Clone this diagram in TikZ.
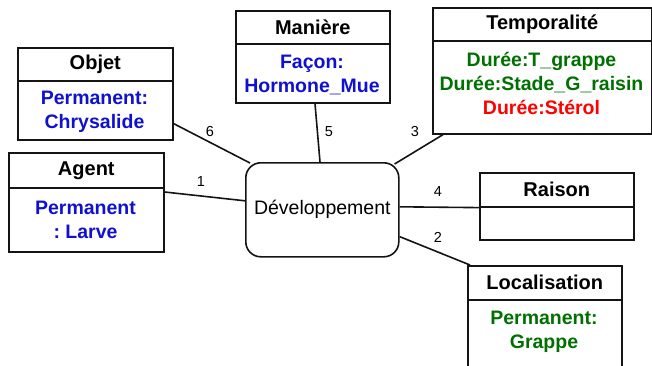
\documentclass[tikz,border=0pt]{standalone}
\usepackage{fontspec}
\setmainfont{Liberation Sans}
\usetikzlibrary{calc}
\frenchspacing
\definecolor{cblue}{RGB}{16,16,208}
\definecolor{cgreen}{RGB}{0,112,0}
\definecolor{cred}{RGB}{255,0,0}
\definecolor{cline}{RGB}{20,20,20}
\tikzset{
  boxpart/.style={draw=cline, line width=1.6pt, anchor=north west, inner sep=0pt, align=center},
  titletext/.style={font=\fontsize{20}{24}\selectfont\bfseries, text=black},
  bodytext/.style={font=\fontsize{19.5}{23.5}\selectfont\bfseries, align=center, inner sep=0pt},
  devbox/.style={draw=cline, line width=1.6pt, rounded corners=15pt, anchor=north west, inner sep=0pt, font=\fontsize{19.5}{23.5}\selectfont},
  conn/.style={draw=cline, line width=1.6pt},
  numlabel/.style={font=\fontsize{14.5}{16}\selectfont, inner sep=0pt}
}
\begin{document}
\begin{tikzpicture}[x=1pt,y=-1pt]
\useasboundingbox (0,0) rectangle (652,365);
\clip (0,0) rectangle (652,365);
\fill[white] (0,0) rectangle (652,365);

% Objet
\node[boxpart, titletext, minimum width=155pt, minimum height=33pt] (objT) at (17,47) {Objet};
\node[boxpart, minimum width=155pt, minimum height=59pt] (objB) at (17,80) {};
\node[bodytext, text=cblue] (objX) at (94.5,112) {Permanent:\\Chrysalide};

% Maniere
\node[boxpart, titletext, minimum width=154pt, minimum height=33pt] (manT) at (235,10) {Manière};
\node[boxpart, minimum width=154pt, minimum height=59pt] (manB) at (235,43) {};
\node[bodytext, text=cblue] (manX) at (312,75) {Façon:\\Hormone\_Mue};

% Temporalite
\node[boxpart, titletext, minimum width=219pt, minimum height=33pt] (temT) at (432,7) {Temporalité};
\node[boxpart, minimum width=219pt, minimum height=93pt] (temB) at (432,40) {};
\node[bodytext, font=\fontsize{19.5}{24}\selectfont\bfseries] (temX) at (541.5,83.5) {\textcolor{cgreen}{Durée:T\_grappe}\\\textcolor{cgreen}{Durée:Stade\_G\_raisin}\\\textcolor{cred}{Durée:Stérol}};

% Agent
\node[boxpart, titletext, minimum width=155pt, minimum height=35pt] (agT) at (8,152) {Agent};
\node[boxpart, minimum width=155pt, minimum height=64pt] (agB) at (8,187) {};
\node[bodytext, text=cblue] (agX) at (85.5,220) {Permanent\\: Larve};

% Raison
\node[boxpart, titletext, minimum width=154pt, minimum height=34pt] (raiT) at (479,172) {Raison};
\node[boxpart, minimum width=154pt, minimum height=33pt] (raiB) at (479,206) {};

% Localisation
\node[boxpart, titletext, minimum width=154pt, minimum height=34pt] (locT) at (467,265) {Localisation};
\node[boxpart, minimum width=154pt, minimum height=90pt] (locB) at (467,299) {};
\node[bodytext, text=cgreen] (locX) at (544,332) {Permanent:\\Grappe};

% Developpement
\node[devbox, minimum width=153pt, minimum height=94pt] (dev) at (245,162) {Développement};

% connectors
\draw[conn] ([yshift=17pt]objB.south east) -- ([xshift=5pt,yshift=-1pt]dev.north west);
\draw[conn] ([xshift=80pt]manB.south west) -- ([xshift=75pt]dev.north west);
\draw[conn] ([xshift=11pt]temB.south west) -- ([xshift=-5pt,yshift=-2pt]dev.north east);
\draw[conn] ([yshift=-5pt]agB.north east) -- ([yshift=9pt]dev.west);
\draw[conn] ([yshift=3pt]dev.east) -- (raiT.south west);
\draw[conn] ([yshift=21pt]dev.south east) -- ([xshift=3pt]locT.north west);

% labels
\node[numlabel] (l6) at (210,132) {6};
\node[numlabel] (l5) at (329,132) {5};
\node[numlabel] (l3) at (415,132) {3};
\node[numlabel] (l1) at (201,182) {1};
\node[numlabel] (l4) at (438,192) {4};
\node[numlabel] (l2) at (438,237) {2};
\end{tikzpicture}
\end{document}
